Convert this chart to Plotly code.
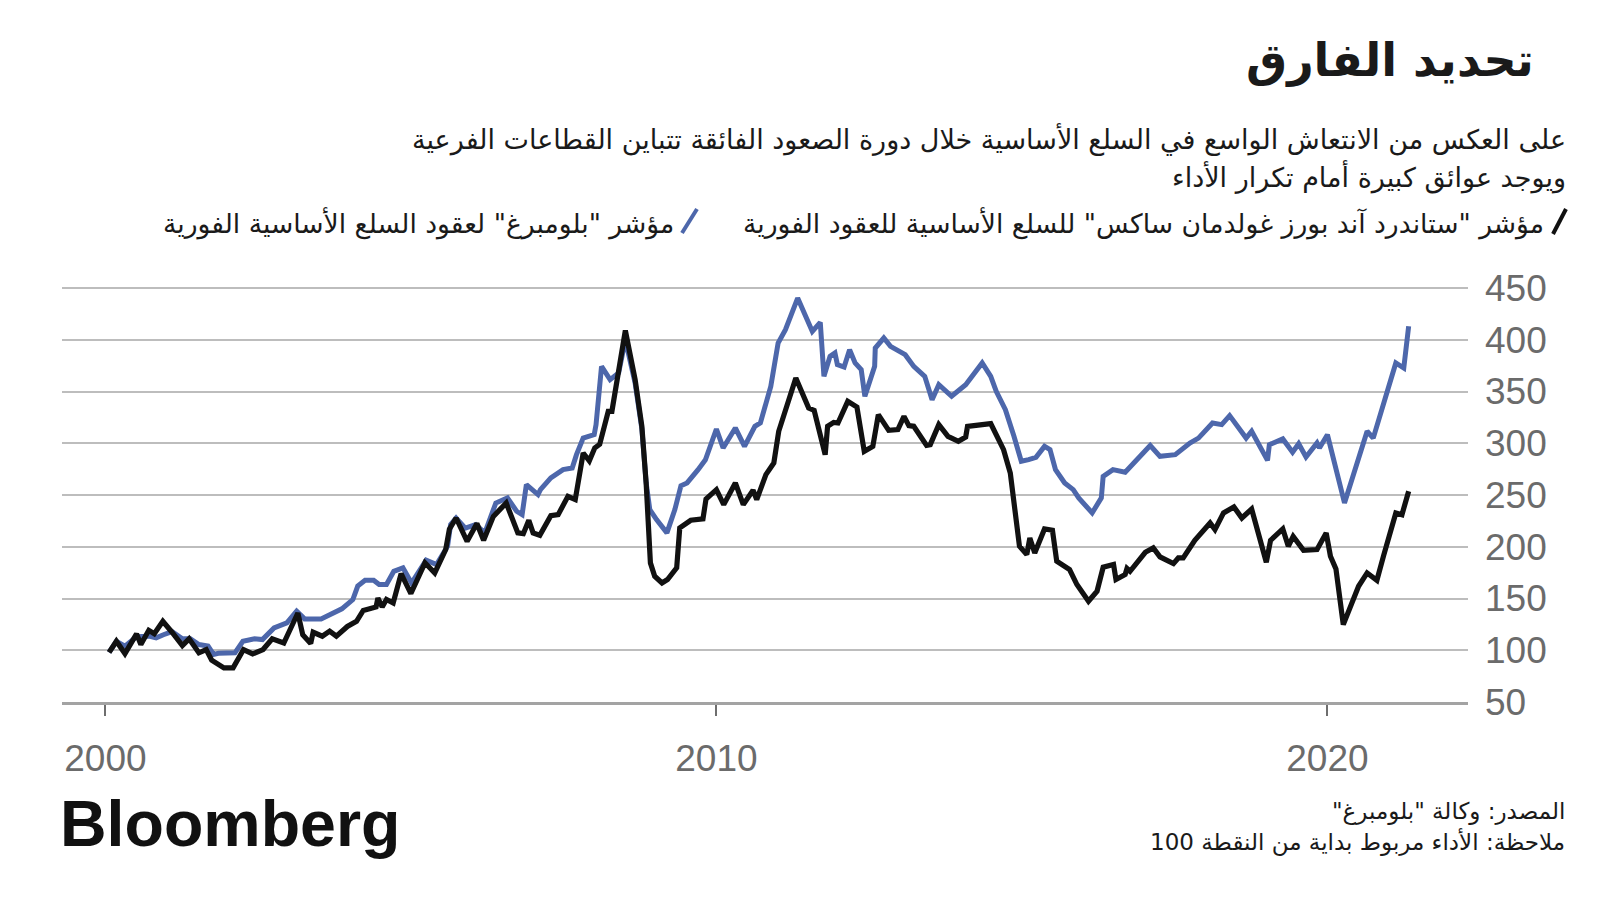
import plotly.graph_objects as go

# ---------------- data ----------------
gsci_year = [2000.06, 2000.18, 2000.32, 2000.51, 2000.58, 2000.71, 2000.80, 2000.94, 2001.09, 2001.26,
             2001.37, 2001.53, 2001.65, 2001.74, 2001.94, 2002.09, 2002.26, 2002.41, 2002.58, 2002.73,
             2002.92, 2003.15, 2003.23, 2003.36, 2003.40, 2003.55, 2003.67, 2003.78, 2003.96, 2004.11,
             2004.22, 2004.43, 2004.46, 2004.53, 2004.60, 2004.71, 2004.84, 2005.00, 2005.23, 2005.39,
             2005.57, 2005.63, 2005.74, 2005.92, 2006.08, 2006.19, 2006.35, 2006.56, 2006.75, 2006.84,
             2006.93, 2007.00, 2007.11, 2007.29, 2007.41, 2007.57, 2007.69, 2007.82, 2007.92, 2008.01,
             2008.09, 2008.23, 2008.29, 2008.51, 2008.67, 2008.78, 2008.85, 2008.92, 2008.99, 2009.11,
             2009.20, 2009.35, 2009.40, 2009.58, 2009.78, 2009.83, 2010.00, 2010.12, 2010.31, 2010.44,
             2010.60, 2010.66, 2010.81, 2010.94, 2011.02, 2011.30, 2011.51, 2011.60, 2011.78, 2011.82,
             2011.92, 2011.99, 2012.15, 2012.30, 2012.42, 2012.56, 2012.65, 2012.82, 2012.97, 2013.07,
             2013.15, 2013.23, 2013.44, 2013.50, 2013.64, 2013.79, 2013.96, 2014.08, 2014.11, 2014.49,
             2014.70, 2014.81, 2014.96, 2015.08, 2015.13, 2015.21, 2015.37, 2015.50, 2015.57, 2015.68,
             2015.78, 2015.90, 2016.09, 2016.23, 2016.33, 2016.50, 2016.54, 2016.69, 2016.72, 2016.77,
             2017.02, 2017.15, 2017.26, 2017.48, 2017.56, 2017.64, 2017.83, 2018.08, 2018.16, 2018.30,
             2018.47, 2018.60, 2018.76, 2019.00, 2019.07, 2019.27, 2019.36, 2019.44, 2019.61, 2019.83,
             2019.98, 2020.05, 2020.14, 2020.26, 2020.51, 2020.65, 2020.81, 2020.92, 2021.12, 2021.22,
             2021.33]
gsci_value = [98, 108.7, 96.8, 115.8, 105.5, 119.3, 116, 128, 117.4, 104.5,
              111, 97.5, 100.7, 90.4, 83, 83, 100.7, 96.5, 100.7, 111,
              107, 136, 115, 106.5, 117.4, 113.6, 118.5, 113.6, 123, 128,
              138.5, 141.8, 150.5, 141.8, 149, 145.7, 174, 154.8, 184.5, 174.7,
              197.3, 217, 227.8, 205.3, 222.4, 206.3, 229.4, 242.3, 213.4, 212.7,
              225.6, 213.4, 211.1, 230, 231, 248.8, 245.6, 290.6, 283, 295.6,
              299, 330.9, 330.9, 409, 361.5, 316.4, 261.7, 184.4, 171.5, 165,
              168.3, 179.6, 218.2, 225.6, 226.9, 246.2, 255.2, 240.7, 261.7, 240.7,
              254.6, 245.6, 269.7, 281, 311.6, 363, 334, 331.8, 289, 316.4,
              320.2, 319.6, 340.5, 335, 292.2, 297, 327.7, 312.5, 313.2, 326,
              317, 316.4, 298, 298.7, 318, 306.7, 301.9, 306, 316.4, 319,
              293.8, 271.3, 200.5, 192.4, 208.5, 194, 217.2, 216, 186, 181.2,
              178, 163.5, 147.4, 157, 180.2, 182.8, 168.3, 173.1, 179, 176.3,
              194.7, 198.9, 190.2, 183.7, 189.2, 189.2, 206.3, 223, 216.6, 232.7,
              238.5, 227.8, 236.5, 185, 206.3, 217.2, 200.5, 210, 196.6, 197.3,
              213.4, 190.8, 178.6, 124.8, 161.8, 174.7, 167.6, 191.5, 232.7, 231,
              253.6]

bcom_year = [2000.06, 2000.18, 2000.32, 2000.51, 2000.71, 2000.83, 2000.95, 2001.09, 2001.26, 2001.39,
             2001.53, 2001.68, 2001.77, 2001.85, 2002.12, 2002.25, 2002.44, 2002.57, 2002.76, 2002.97,
             2003.13, 2003.26, 2003.53, 2003.73, 2003.87, 2004.05, 2004.13, 2004.25, 2004.39, 2004.48,
             2004.60, 2004.72, 2004.87, 2005.01, 2005.25, 2005.42, 2005.60, 2005.65, 2005.74, 2005.89,
             2006.06, 2006.21, 2006.39, 2006.58, 2006.73, 2006.82, 2006.89, 2007.08, 2007.12, 2007.29,
             2007.49, 2007.64, 2007.71, 2007.82, 2008.00, 2008.03, 2008.12, 2008.26, 2008.40, 2008.51,
             2008.67, 2008.78, 2008.85, 2008.91, 2009.02, 2009.19, 2009.32, 2009.42, 2009.52, 2009.70,
             2009.82, 2010.00, 2010.11, 2010.31, 2010.46, 2010.63, 2010.72, 2010.89, 2011.01, 2011.13,
             2011.33, 2011.57, 2011.70, 2011.76, 2011.86, 2011.94, 2011.98, 2012.09, 2012.18, 2012.27,
             2012.37, 2012.43, 2012.59, 2012.60, 2012.74, 2012.85, 2013.09, 2013.23, 2013.41, 2013.53,
             2013.64, 2013.85, 2014.08, 2014.35, 2014.49, 2014.58, 2014.73, 2014.87, 2014.99, 2015.11,
             2015.23, 2015.37, 2015.46, 2015.55, 2015.70, 2015.84, 2015.93, 2016.15, 2016.30, 2016.33,
             2016.49, 2016.69, 2017.10, 2017.26, 2017.51, 2017.75, 2017.89, 2018.12, 2018.27, 2018.40,
             2018.67, 2018.76, 2018.93, 2019.02, 2019.05, 2019.27, 2019.43, 2019.53, 2019.65, 2019.83,
             2019.87, 2020.00, 2020.28, 2020.65, 2020.75, 2021.12, 2021.25, 2021.33]
bcom_value = [98, 108.7, 104, 113, 113.6, 112, 115, 118, 111, 111,
              105.5, 104, 96, 97, 97.5, 108.7, 111, 110.3, 121.5, 126.4,
              137.7, 130.3, 130.3, 136, 140, 149, 162, 167.6, 167.6, 163.5,
              163.5, 176.3, 179.6, 165, 187, 182.8, 200.5, 221.4, 227.8, 218,
              221.4, 213.4, 242.3, 247.2, 234.3, 231, 260, 250.4, 255.2, 266.5,
              274.5, 276.1, 289, 305, 308.3, 318, 374.3, 361.5, 368, 400,
              358, 314, 262, 236, 226.2, 213.4, 236, 259, 261.7, 274.5,
              284, 313.8, 295.5, 314.8, 297, 316.4, 319.6, 355, 396.9, 409.8,
              440.3, 408.1, 416.8, 364.7, 384, 387.2, 376, 373.7, 390.4, 377.6,
              371.1, 345.4, 374.3, 392, 401.7, 393.7, 385.6, 374.3, 364.7, 342.1,
              356.6, 345.4, 356.6, 377.6, 364.7, 350.2, 332.5, 306.7, 282.6, 284.2,
              286.4, 297, 293.8, 274.5, 261.7, 255.2, 247.2, 232.7, 247.2, 268,
              274.5, 272, 297.8, 287.4, 289, 300.3, 305, 319.6, 318, 326.7,
              305, 311.6, 293.8, 283.5, 298.7, 304.2, 291.3, 299.6, 286.8, 300.3,
              295.5, 308.3, 242.3, 311.6, 305, 377.6, 372.7, 413]

x_tick_vals = [2000, 2010, 2020]
x_tick_text = ["2000", "2010", "2020"]
y_tick_vals = [50, 100, 150, 200, 250, 300, 350, 400, 450]

RLM = "\u200f"
title_text = "تحديد الفارق"
subtitle_line1 = "على العكس من الانتعاش الواسع في السلع الأساسية خلال دورة الصعود الفائقة تتباين القطاعات الفرعية"
subtitle_line2 = "ويوجد عوائق كبيرة أمام تكرار الأداء"
legend_gsci = "مؤشر \"ستاندرد آند بورز غولدمان ساكس\" للسلع الأساسية للعقود الفورية"
legend_bcom = "مؤشر \"بلومبرغ\" لعقود السلع الأساسية الفورية"
source_line = "المصدر: وكالة \"بلومبرغ\""
note_line = "ملاحظة: الأداء مربوط بداية من النقطة 100"

BLUE = "#4d67ab"
BLACK = "#111111"
AR_FONT = "DejaVu Sans"
NUM_FONT = "Liberation Sans"

# ---------------- layout geometry (pixels) ----------------
W, H = 1600, 900
PL, PR, PT, PB = 62, 1468, 287, 702


def xp(px):
    return (px - PL) / (PR - PL)


def yp(py):
    return (PB - py) / (PB - PT)


def rtl(s):
    return RLM + s + RLM


fig = go.Figure()
fig.add_trace(go.Scatter(x=bcom_year, y=bcom_value, mode="lines",
                         line=dict(color=BLUE, width=5), hoverinfo="skip", showlegend=False))
fig.add_trace(go.Scatter(x=gsci_year, y=gsci_value, mode="lines",
                         line=dict(color=BLACK, width=5.2), hoverinfo="skip", showlegend=False))

annotations = [
    dict(text="<b>" + rtl(title_text) + "</b>", x=xp(1536), y=yp(60), xanchor="right", yanchor="middle",
         font=dict(family=AR_FONT, size=46, color="#1a1a1a")),
    dict(text=rtl(subtitle_line1), x=xp(1568), y=yp(139), xanchor="right", yanchor="middle",
         font=dict(family=AR_FONT, size=27, color="#1a1a1a")),
    dict(text=rtl(subtitle_line2), x=xp(1568), y=yp(176), xanchor="right", yanchor="middle",
         font=dict(family=AR_FONT, size=27, color="#1a1a1a")),
    dict(text=rtl(legend_gsci), x=xp(1546), y=yp(223), xanchor="right", yanchor="middle",
         font=dict(family=AR_FONT, size=26.6, color="#1a1a1a")),
    dict(text=rtl(legend_bcom), x=xp(676), y=yp(223), xanchor="right", yanchor="middle",
         font=dict(family=AR_FONT, size=26.6, color="#1a1a1a")),
    dict(text=rtl(source_line), x=xp(1567), y=yp(811), xanchor="right", yanchor="middle",
         font=dict(family=AR_FONT, size=23, color="#1a1a1a")),
    dict(text=rtl(note_line), x=xp(1567), y=yp(842), xanchor="right", yanchor="middle",
         font=dict(family=AR_FONT, size=23, color="#1a1a1a")),
    dict(text="<b>Bloomberg</b>", x=xp(58), y=yp(824), xanchor="left", yanchor="middle",
         font=dict(family=NUM_FONT, size=64.5, color="#111111")),
]
for a in annotations:
    a.update(xref="paper", yref="paper", showarrow=False)

shapes = [
    dict(type="line", xref="paper", yref="paper", x0=xp(1553), y0=yp(234), x1=xp(1566), y1=yp(209),
         line=dict(color=BLACK, width=4)),
    dict(type="line", xref="paper", yref="paper", x0=xp(682), y0=yp(233), x1=xp(697), y1=yp(209),
         line=dict(color=BLUE, width=4)),
]

fig.update_layout(
    width=W, height=H,
    margin=dict(l=PL, r=W - PR, t=PT, b=H - PB, pad=0),
    paper_bgcolor="white", plot_bgcolor="white",
    showlegend=False,
    annotations=annotations,
    shapes=shapes,
    xaxis=dict(range=[2000 + (PL - 105.4) / 61.1, 2000 + (PR - 105.4) / 61.1],
               tickvals=x_tick_vals, ticktext=x_tick_text,
               showgrid=False, zeroline=False,
               showline=True, linecolor="#a3a3a3", linewidth=3,
               ticks="outside", ticklen=11, tickwidth=2, tickcolor="#6e6e6e",
               ticklabelstandoff=11,
               tickfont=dict(family=NUM_FONT, size=37, color="#6b6b6b")),
    yaxis=dict(range=[50, 451], side="right", tickvals=y_tick_vals,
               showgrid=True, gridcolor="#bdbdbd", gridwidth=2,
               zeroline=False, showline=False, ticks="",
               ticklabelstandoff=16,
               tickfont=dict(family=NUM_FONT, size=37, color="#6b6b6b")),
)

fig.write_html("out.html", config={"displayModeBar": False},
               post_script="document.body.style.margin='0';")
